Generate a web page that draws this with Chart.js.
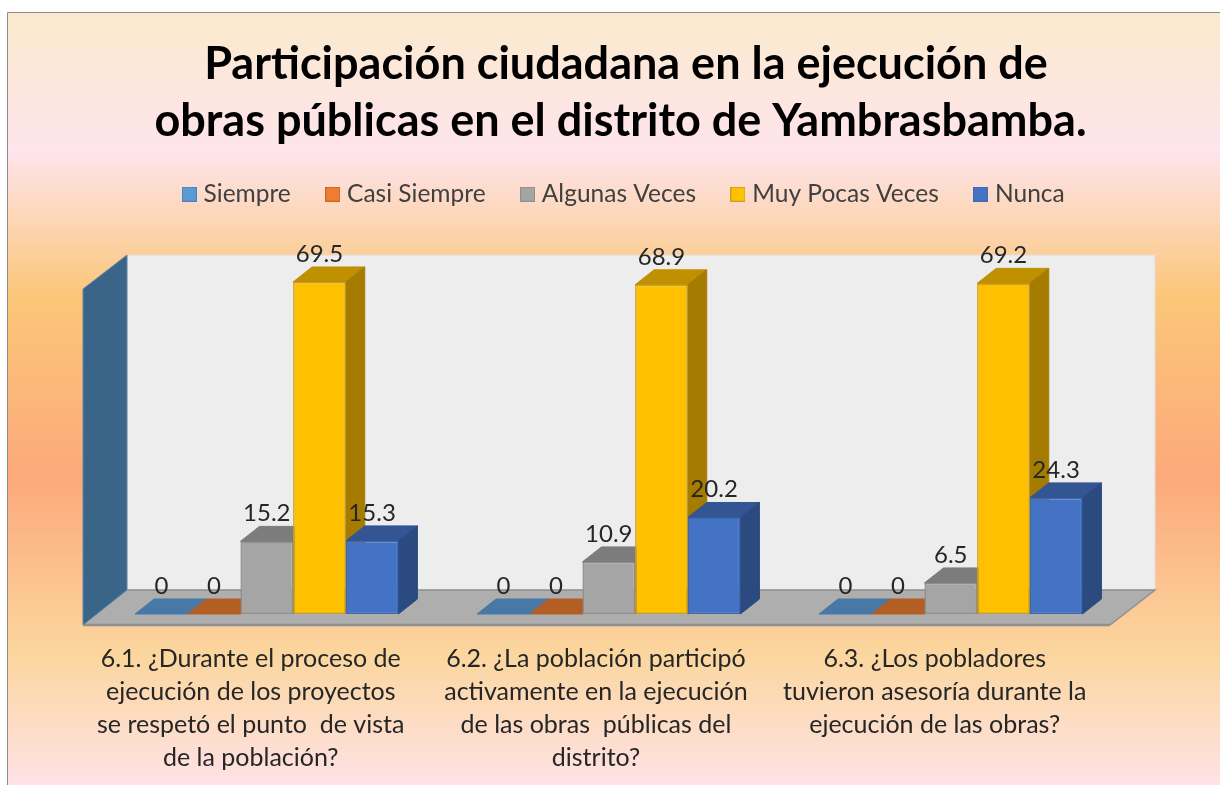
<!DOCTYPE html>
<html lang="es">
<head>
<meta charset="utf-8">
<title>Participación ciudadana</title>
<style>html,body{margin:0;padding:0;background:#fff}canvas{display:block;filter:blur(.45px)}</style>
<script src="https://cdn.jsdelivr.net/npm/chart.js@4/dist/chart.umd.min.js"></script>
</head>
<body>
<canvas id="c" width="1220" height="785"></canvas>
<script>
const titleLines = ['Participación ciudadana en la ejecución de', 'obras públicas en el distrito de Yambrasbamba. '];
const categories = [
  ['6.1. ¿Durante el proceso de', 'ejecución de los proyectos', 'se respetó el punto  de vista', 'de la población?'],
  [' 6.2. ¿La población participó', ' activamente en la ejecución', ' de las obras  públicas del', ' distrito?'],
  ['6.3. ¿Los pobladores', 'tuvieron asesoría durante la', 'ejecución de las obras?']
];
const seriesNames = ['Siempre', 'Casi Siempre', 'Algunas Veces', 'Muy Pocas Veces', 'Nunca'];
const siempre = [0, 0, 0];
const casiSiempre = [0, 0, 0];
const algunasVeces = [15.2, 10.9, 6.5];
const muyPocasVeces = [69.5, 68.9, 69.2];
const nunca = [15.3, 20.2, 24.3];

const frontColors = ['#5B9BD5', '#ED7D31', '#A5A5A5', '#FFC000', '#4472C4'];
const edgeColors  = ['#4A82B5', '#C8661F', '#8E8E8E', '#C9A020', '#3D68B2'];
const topColors   = ['#4878A5', '#B35E24', '#7C7C7C', '#BF9000', '#335593'];
const sideColors  = ['#3A6588', '#9A4F1E', '#6A6A6A', '#A67C00', '#2A4A80'];
const DX = 19, DY = -15, FONT = 'Lato, Carlito, Calibri, sans-serif';

function poly(ctx, pts, fill, stroke, lw) {
  ctx.beginPath();
  pts.forEach((p, i) => i ? ctx.lineTo(p[0], p[1]) : ctx.moveTo(p[0], p[1]));
  ctx.closePath();
  ctx.fillStyle = fill; ctx.fill();
  if (stroke) { ctx.strokeStyle = stroke; ctx.lineWidth = lw || 1; ctx.stroke(); }
}

const backdrop = {
  id: 'backdrop',
  beforeDraw(chart) {
    const ctx = chart.ctx, W = chart.width, H = chart.height;
    const g = ctx.createLinearGradient(0, 12, 0, H);
    g.addColorStop(0, '#FBEACD');
    g.addColorStop(0.18, '#FEE4EC');
    g.addColorStop(0.37, '#FBC678');
    g.addColorStop(0.605, '#FCA97B');
    g.addColorStop(0.83, '#FBD69E');
    g.addColorStop(1, '#FEE2E6');
    ctx.save();
    ctx.fillStyle = '#fff'; ctx.fillRect(0, 0, W, H);
    ctx.fillStyle = g; ctx.fillRect(7, 12, W - 7, H - 12);
    ctx.strokeStyle = '#8C8C8C'; ctx.lineWidth = 1;
    ctx.beginPath(); ctx.moveTo(7.5, H); ctx.lineTo(7.5, 12.5); ctx.lineTo(W, 12.5); ctx.stroke();
    ctx.restore();
  },
  beforeDatasetsDraw(chart) {
    const ctx = chart.ctx, a = chart.chartArea, b = a.bottom;
    const fl = a.left - 12.75, bl = a.left + 31.25, fr = a.right - 11.75, br = a.right + 33.25;
    const wt = b - 359, ft = b - 325, bb = b - 24, fb = b + 11;
    ctx.save();
    poly(ctx, [[bl, wt], [br, wt], [br, bb], [bl, bb]], '#EDEDED', '#E2DDD6', 1);
    poly(ctx, [[fl, fb], [fr, fb], [br, bb], [bl, bb]], '#AEAEAE');
    ctx.strokeStyle = '#8F8F8F'; ctx.lineWidth = 1.5;
    ctx.beginPath(); ctx.moveTo(bl, bb); ctx.lineTo(br, bb); ctx.lineTo(fr, fb); ctx.stroke();
    ctx.lineWidth = 2.5; ctx.strokeStyle = '#909090';
    ctx.beginPath(); ctx.moveTo(fl, fb); ctx.lineTo(fr, fb); ctx.stroke();
    poly(ctx, [[fl, ft], [bl, wt], [bl, bb], [fl, fb]], '#3A6588', '#5F86A6', 1);
    // depth faces of every bar, read from the bar elements placed by the scales
    const n = chart.data.labels.length;
    for (let i = 0; i < n; i++) {
      chart.data.datasets.forEach((ds, d) => {
        const el = chart.getDatasetMeta(d).data[i];
        const l = el.x - el.width / 2, r = el.x + el.width / 2, t = el.y, base = el.base;
        poly(ctx, [[l, t], [r, t], [r + DX, t + DY], [l + DX, t + DY]], topColors[d], topColors[d], 1);
        if (base > t) poly(ctx, [[r, t], [r + DX, t + DY], [r + DX, base + DY], [r, base]], sideColors[d], sideColors[d], 1);
      });
    }
    ctx.restore();
  },
  afterDatasetsDraw(chart) {
    const ctx = chart.ctx;
    ctx.save();
    ctx.font = '24px ' + FONT;
    ctx.fillStyle = '#262626';
    ctx.textAlign = 'center'; ctx.textBaseline = 'middle';
    chart.data.datasets.forEach((ds, d) => {
      chart.getDatasetMeta(d).data.forEach((el, i) => ctx.fillText(String(ds.data[i]), el.x, el.y - 28));
    });
    ctx.restore();
  }
};

function swatch(fill, edge) {
  const s = document.createElement('canvas');
  s.width = 15; s.height = 15;
  const c = s.getContext('2d');
  c.fillStyle = fill; c.fillRect(0, 0, 15, 15);
  c.strokeStyle = edge; c.strokeRect(.5, .5, 14, 14);
  return s;
}

const allSeries = [siempre, casiSiempre, algunasVeces, muyPocasVeces, nunca];
new Chart(document.getElementById('c'), {
  type: 'bar',
  plugins: [backdrop],
  data: {
    labels: categories,
    datasets: seriesNames.map((name, i) => ({
      label: name,
      data: allSeries[i],
      backgroundColor: frontColors[i],
      borderColor: edgeColors[i],
      borderWidth: 1.5,
      borderSkipped: false
    }))
  },
  options: {
    responsive: false,
    animation: false,
    layout: { padding: { left: 32, top: 26, right: 0, bottom: 0 } },
    datasets: { bar: { categoryPercentage: 0.77, barPercentage: 1 } },
    plugins: {
      tooltip: { enabled: false },
      title: {
        display: true,
        text: titleLines,
        color: '#000',
        font: { family: FONT, size: 45, weight: 'bold', lineHeight: 57 / 45 },
        padding: { top: 10, bottom: -8 }
      },
      legend: {
        display: true,
        position: 'top',
        labels: {
          color: '#404040',
          font: { family: FONT, size: 24.5 },
          usePointStyle: true,
          pointStyleWidth: 4,
          padding: 40,
          generateLabels(chart) {
            return Chart.defaults.plugins.legend.labels.generateLabels(chart).map((it, i) => {
              it.pointStyle = swatch(frontColors[i], edgeColors[i]);
              return it;
            });
          }
        }
      }
    },
    scales: {
      x: {
        grid: { display: false },
        border: { display: false },
        afterFit(s) { s.height = 171; },
        ticks: {
          color: '#262626',
          font: { family: FONT, size: 25, lineHeight: 33 / 25 },
          padding: 20,
          labelOffset: -16,
          maxRotation: 0, minRotation: 0, autoSkip: false
        }
      },
      y: {
        min: 0, max: 83.2,
        grid: { display: false },
        border: { display: false },
        ticks: { display: false },
        afterFit(s) { s.width = 63.75; }
      },
      yRight: {
        position: 'right',
        min: 0, max: 83.2,
        grid: { display: false },
        border: { display: false },
        ticks: { display: false },
        afterFit(s) { s.width = 98.25; }
      }
    }
  }
});
</script>
</body>
</html>
